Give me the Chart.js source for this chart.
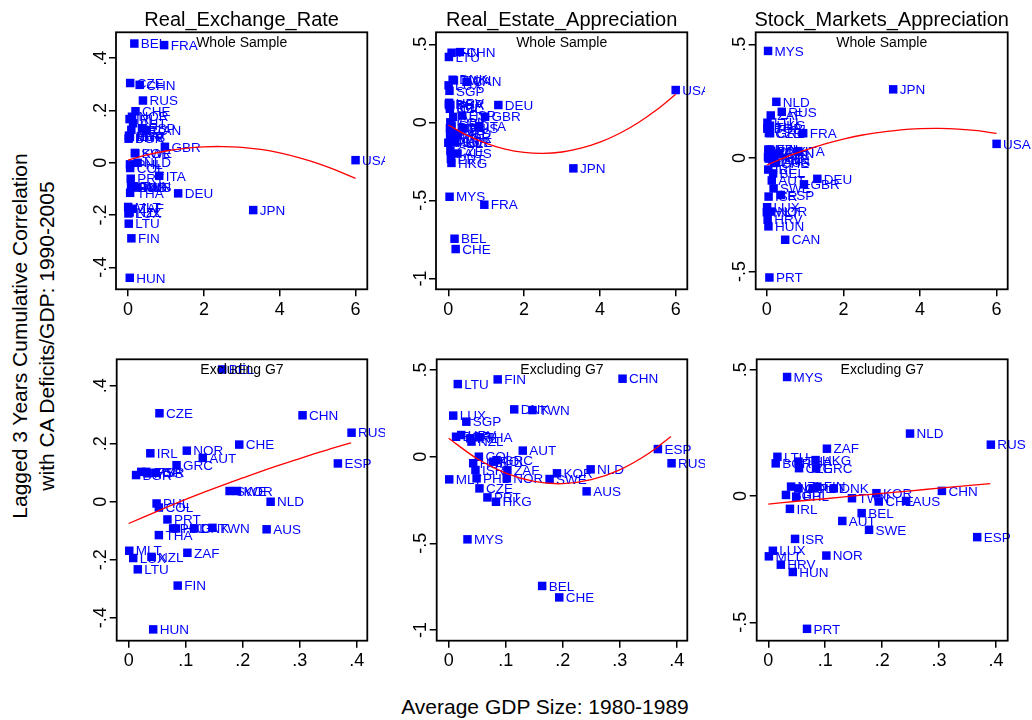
<!DOCTYPE html>
<html>
<head>
<meta charset="utf-8">
<script src="https://cdn.jsdelivr.net/npm/chart.js@4.4.0/dist/chart.umd.min.js"></script>
<style>
  body { margin: 0; background: #fff; width: 1032px; height: 720px; position: relative; overflow: hidden; font-family: "Liberation Sans", Arial, sans-serif; }
  canvas { position: absolute; }
  .ytitle { position: absolute; left: 33px; top: 336px; transform: translate(-50%, -50%) rotate(-90deg); white-space: nowrap; text-align: center; font-size: 21px; line-height: 27px; color: #000; }
  .xtitle { position: absolute; left: 545px; top: 707px; transform: translate(-50%, -50%); white-space: nowrap; font-size: 21px; color: #000; }
</style>
</head>
<body>
<div class="ytitle">Lagged 3 Years Cumulative Correlation<br>with CA Deficits/GDP: 1990-2005</div>
<div class="xtitle">Average GDP Size: 1980-1989</div>
<script>
// countries outside the G7 (used in every panel)
var countries = ['MLT','LUX','BGR','LTU','HRV','SGP','MYS','IRL','NZL','HUN','ISR','PHL','COL','THA','CZE','PRT','POL','HKG','GRC','FIN','NOR','ZAF','DNK','AUT','TWN','BEL','SWE','KOR','CHE','AUS','NLD','CHN','ESP','RUS'];
var gdpSize    = [0.001,0.008,0.013,0.016,0.022,0.031,0.033,0.038,0.040,0.043,0.047,0.049,0.053,0.053,0.054,0.068,0.078,0.083,0.084,0.086,0.102,0.103,0.115,0.130,0.147,0.164,0.177,0.190,0.194,0.242,0.249,0.305,0.367,0.391];
var realExchange = [-0.169,-0.194,0.092,-0.233,0.103,0.103,0.098,0.167,-0.190,-0.440,0.100,-0.006,-0.020,-0.115,0.305,-0.061,-0.092,-0.092,0.126,-0.289,0.176,-0.176,-0.092,0.151,-0.090,0.456,0.037,0.037,0.197,-0.095,0.000,0.298,0.132,0.238];
var realEstate   = [-0.131,0.237,0.115,0.419,0.125,0.202,-0.477,0.106,0.087,-0.038,-0.077,-0.125,0.000,0.112,-0.183,-0.235,-0.029,-0.260,-0.020,0.446,-0.125,-0.077,0.273,0.035,0.269,-0.746,-0.129,-0.096,-0.812,-0.200,-0.073,0.450,0.044,-0.038];
var stockMarkets = [-0.239,-0.217,0.129,0.155,-0.272,0.004,0.471,-0.051,0.037,-0.301,-0.170,-0.003,0.030,0.136,0.110,-0.526,0.030,0.142,0.109,0.037,-0.236,0.187,0.030,-0.099,-0.009,-0.068,-0.134,0.011,-0.022,-0.020,0.247,0.020,-0.163,0.203];

// G7 countries (whole sample only)
var g7Countries = ['USA','JPN','DEU','FRA','GBR','ITA','CAN'];
var g7Gdp       = [6.00, 3.30, 1.32, 0.95, 0.97, 0.82, 0.48];
var g7Exchange  = [0.010,-0.181,-0.117,0.450,0.061,-0.050,0.125];
var g7Estate    = [0.207,-0.295,0.111,-0.528,0.036,-0.024,0.260];
var g7Stocks    = [0.062,0.302,-0.092,0.109,-0.116,0.030,-0.360];

// fitted curves (red lines)
var fitXAll  = [0,0.5,1,1.5,2,2.5,3,3.5,4,4.5,5,5.5,6];
var fitExchangeAll = [0.010,0.030,0.045,0.055,0.061,0.062,0.059,0.051,0.038,0.020,-0.002,-0.029,-0.060];
var fitEstateAll   = [-0.017,-0.084,-0.135,-0.172,-0.193,-0.199,-0.190,-0.166,-0.127,-0.073,-0.004,0.080,0.180];
var fitStocksAll   = [-0.031,0.004,0.034,0.061,0.083,0.101,0.114,0.124,0.129,0.130,0.127,0.120,0.108];
var fitXExcl = [0,0.05,0.1,0.15,0.2,0.25,0.3,0.35,0.39];
var fitExchangeExcl = [-0.075,-0.033,0.008,0.046,0.082,0.117,0.149,0.180,0.203];
var fitEstateExcl   = [0.106,-0.012,-0.095,-0.143,-0.156,-0.133,-0.076,0.017,0.117];
var fitStocksExcl   = [-0.032,-0.021,-0.011,0.000,0.010,0.020,0.031,0.041,0.049];

// tick values
var xTicksAll  = [0,2,4,6];
var xTicksExcl = [0,0.1,0.2,0.3,0.4];
var yTicksExchange = [-0.4,-0.2,0,0.2,0.4];
var yTicksEstate   = [-1,-0.5,0,0.5];
var yTicksStocks   = [-0.5,0,0.5];

var FONT = "'Liberation Sans', Arial, sans-serif";

// Stata-like number format: .4, -.2, 0
function fmt(v) {
    return String(v).replace('0.', '.');
}

function points(xs, ys, names) {
    return xs.map(function (x, i) { return { x: x, y: ys[i], label: names[i] }; });
}

var all = function (ys, g7ys) {
    return points(gdpSize.concat(g7Gdp), ys.concat(g7ys), countries.concat(g7Countries));
};

// panel layout: canvas box, plot frame (page pixels) and axis ranges
var panels = [
    { box: [65, 0, 320, 330],  frame: [116, 32.3, 367.3, 289.3], title: 'Real_Exchange_Rate', sub: 'Whole Sample',
      pts: all(realExchange, g7Exchange), fitX: fitXAll, fitY: fitExchangeAll,
      x: [-0.32, 6.31], y: [-0.484, 0.499], xt: xTicksAll, yt: yTicksExchange },
    { box: [385, 0, 320, 330], frame: [436, 32.3, 687.3, 289.3], title: 'Real_Estate_Appreciation', sub: 'Whole Sample',
      pts: all(realEstate, g7Estate), fitX: fitXAll, fitY: fitEstateAll,
      x: [-0.325, 6.306], y: [-1.07, 0.577], xt: xTicksAll, yt: yTicksEstate },
    { box: [705, 0, 327, 330], frame: [755.7, 32.3, 1007.7, 289.3], title: 'Stock_Markets_Appreciation', sub: 'Whole Sample',
      pts: all(stockMarkets, g7Stocks), fitX: fitXAll, fitY: fitStocksAll,
      x: [-0.29, 6.29], y: [-0.578, 0.553], xt: xTicksAll, yt: yTicksStocks },
    { box: [65, 330, 320, 345],  frame: [116.7, 359.3, 367.3, 640.7], title: '', sub: 'Excluding G7',
      pts: points(gdpSize, realExchange, countries), fitX: fitXExcl, fitY: fitExchangeExcl,
      x: [-0.021, 0.4186], y: [-0.479, 0.491], xt: xTicksExcl, yt: yTicksExchange },
    { box: [385, 330, 320, 345], frame: [436.7, 359.3, 687.3, 640.7], title: '', sub: 'Excluding G7',
      pts: points(gdpSize, realEstate, countries), fitX: fitXExcl, fitY: fitEstateExcl,
      x: [-0.021, 0.4186], y: [-1.062, 0.562], xt: xTicksExcl, yt: yTicksEstate },
    { box: [705, 330, 327, 345], frame: [756.7, 359.3, 1007.7, 640.7], title: '', sub: 'Excluding G7',
      pts: points(gdpSize, stockMarkets, countries), fitX: fitXExcl, fitY: fitStocksExcl,
      x: [-0.0204, 0.4206], y: [-0.573, 0.541], xt: xTicksExcl, yt: yTicksStocks }
];

function panelPlugin(p) {
    return {
        id: 'panelText',
        afterDatasetDraw: function (chart, args) {
            if (args.index !== 0) return;
            // country labels to the right of the markers
            var ctx = chart.ctx;
            var meta = chart.getDatasetMeta(0);
            ctx.save();
            ctx.font = '13.5px ' + FONT;
            ctx.fillStyle = '#0000ff';
            ctx.textAlign = 'left';
            ctx.textBaseline = 'middle';
            meta.data.forEach(function (el, i) {
                ctx.fillText(p.pts[i].label, el.x + 6.5, el.y + 1);
            });
            ctx.restore();
        },
        afterDraw: function (chart) {
            var ctx = chart.ctx, a = chart.chartArea;
            ctx.save();
            // frame
            ctx.strokeStyle = '#000';
            ctx.lineWidth = 1.8;
            ctx.strokeRect(a.left, a.top, a.right - a.left, a.bottom - a.top);
            // rotated y tick labels
            ctx.fillStyle = '#000';
            ctx.font = '18px ' + FONT;
            ctx.textAlign = 'center';
            ctx.textBaseline = 'alphabetic';
            p.yt.forEach(function (v) {
                var y = chart.scales.y.getPixelForValue(v);
                ctx.save();
                ctx.translate(a.left - 10.5, y);
                ctx.rotate(-Math.PI / 2);
                ctx.fillText(fmt(v), 0, 0);
                ctx.restore();
            });
            var cx = (a.left + a.right) / 2;
            // subtitle inside the frame
            ctx.font = '14px ' + FONT;
            ctx.fillText(p.sub, cx, a.top + 14.5);
            // panel title
            if (p.title) {
                ctx.font = '20px ' + FONT;
                ctx.fillText(p.title, cx, a.top - 6.5);
            }
            ctx.restore();
        }
    };
}

panels.forEach(function (p) {
    var c = document.createElement('canvas');
    c.width = p.box[2];
    c.height = p.box[3];
    c.style.left = p.box[0] + 'px';
    c.style.top = p.box[1] + 'px';
    document.body.appendChild(c);

    var areaLeft = p.frame[0] - p.box[0];
    var areaRight = p.frame[2] - p.box[0];
    var areaTop = p.frame[1] - p.box[1];
    var areaBottom = p.frame[3] - p.box[1];
    var xAxisH = 30;

    new Chart(c.getContext('2d'), {
        type: 'scatter',
        data: {
            datasets: [{
                data: p.pts,
                backgroundColor: '#0000ff',
                borderWidth: 0,
                pointStyle: 'rect',
                pointRadius: 6,
                pointHoverRadius: 6,
                clip: false,
                order: 2
            }, {
                type: 'line',
                data: p.fitX.map(function (x, i) { return { x: x, y: p.fitY[i] }; }),
                borderColor: '#ff0000',
                borderWidth: 1.3,
                pointRadius: 0,
                tension: 0.3,
                fill: false,
                order: 1
            }]
        },
        options: {
            responsive: false,
            animation: false,
            events: [],
            layout: {
                padding: {
                    left: 0,
                    top: areaTop,
                    right: p.box[2] - areaRight,
                    bottom: p.box[3] - areaBottom - xAxisH
                }
            },
            plugins: {
                legend: { display: false },
                tooltip: { enabled: false }
            },
            scales: {
                x: {
                    type: 'linear',
                    min: p.x[0],
                    max: p.x[1],
                    afterBuildTicks: function (s) { s.ticks = p.xt.map(function (v) { return { value: v }; }); },
                    afterFit: function (s) { s.height = xAxisH; },
                    ticks: {
                        color: '#000',
                        font: { size: 18, family: FONT },
                        padding: 3,
                        maxRotation: 0,
                        autoSkip: false,
                        callback: function (v) { return fmt(v); }
                    },
                    grid: { drawOnChartArea: false, tickLength: 7, color: '#000', lineWidth: 1.5 },
                    border: { display: false }
                },
                y: {
                    type: 'linear',
                    min: p.y[0],
                    max: p.y[1],
                    afterBuildTicks: function (s) { s.ticks = p.yt.map(function (v) { return { value: v }; }); },
                    afterFit: function (s) { s.width = areaLeft; },
                    ticks: { display: false },
                    grid: { drawOnChartArea: false, tickLength: 7, color: '#000', lineWidth: 1.5 },
                    border: { display: false }
                }
            }
        },
        plugins: [panelPlugin(p)]
    });
});
</script>
</body>
</html>
